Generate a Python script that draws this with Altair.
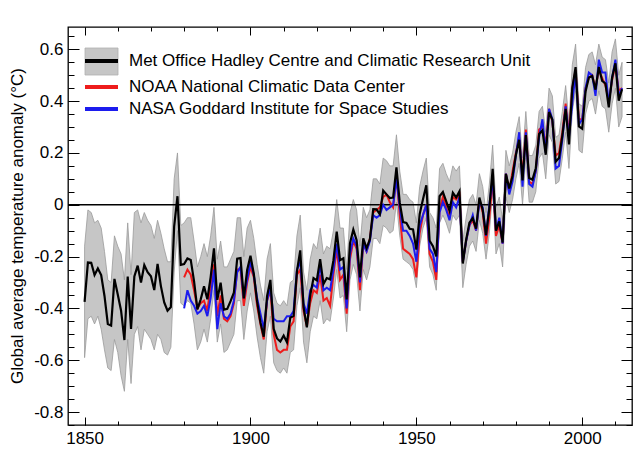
import altair as alt
import pandas as pd

# ---------------- data ----------------
had_years = list(range(1850, 2013))
hadcrut = [
    -0.375, -0.223, -0.224, -0.271, -0.246, -0.271, -0.352, -0.460, -0.466, -0.286,
    -0.346, -0.409, -0.522, -0.277, -0.479, -0.277, -0.235, -0.300, -0.233, -0.260,
    -0.276, -0.329, -0.228, -0.314, -0.377, -0.409, -0.395, -0.083, 0.033, -0.232,
    -0.229, -0.207, -0.213, -0.296, -0.404, -0.365, -0.315, -0.365, -0.279, -0.168,
    -0.367, -0.301, -0.405, -0.402, -0.372, -0.339, -0.208, -0.206, -0.361, -0.252,
    -0.197, -0.266, -0.373, -0.454, -0.509, -0.353, -0.290, -0.479, -0.516, -0.528,
    -0.505, -0.531, -0.436, -0.429, -0.258, -0.176, -0.394, -0.473, -0.350, -0.283,
    -0.292, -0.210, -0.306, -0.283, -0.288, -0.215, -0.104, -0.214, -0.207, -0.365,
    -0.148, -0.096, -0.137, -0.280, -0.130, -0.168, -0.133, -0.017, -0.018, -0.037,
    0.055, 0.040, 0.026, 0.028, 0.144, 0.008, -0.067, -0.070, -0.093, -0.095,
    -0.173, -0.036, 0.021, 0.075, -0.139, -0.160, -0.199, 0.033, 0.049, 0.013,
    -0.023, 0.046, 0.028, 0.052, -0.227, -0.136, -0.069, -0.052, -0.092, 0.028,
    -0.020, -0.117, -0.013, 0.139, -0.100, -0.064, -0.146, 0.119, 0.063, 0.111,
    0.192, 0.251, 0.094, 0.269, 0.103, 0.097, 0.141, 0.273, 0.287, 0.193,
    0.358, 0.328, 0.166, 0.180, 0.266, 0.370, 0.233, 0.451, 0.531, 0.302,
    0.293, 0.437, 0.491, 0.497, 0.444, 0.532, 0.478, 0.468, 0.376, 0.491,
    0.546, 0.402, 0.446,
]
had_upper = [
    -0.16, -0.02, -0.03, -0.07, -0.06, -0.09, -0.18, -0.29, -0.30, -0.12,
    -0.16, -0.19, -0.29, -0.07, -0.27, -0.03, -0.02, -0.07, -0.03, -0.06,
    -0.08, -0.13, -0.06, -0.11, -0.17, -0.22, -0.22, 0.10, 0.20, -0.08,
    -0.07, -0.05, -0.05, -0.14, -0.24, -0.20, -0.15, -0.20, -0.12, -0.01,
    -0.21, -0.14, -0.24, -0.24, -0.21, -0.18, -0.05, -0.05, -0.20, -0.09,
    -0.06, -0.13, -0.23, -0.31, -0.37, -0.21, -0.15, -0.34, -0.38, -0.39,
    -0.37, -0.39, -0.30, -0.29, -0.12, -0.04, -0.26, -0.33, -0.21, -0.15,
    -0.17, -0.09, -0.19, -0.16, -0.17, -0.10, 0.02, -0.09, -0.09, -0.25,
    -0.03, 0.02, -0.02, -0.16, -0.01, -0.05, -0.02, 0.10, 0.10, 0.08,
    0.18, 0.17, 0.15, 0.15, 0.27, 0.13, 0.04, 0.04, 0.02, 0.01,
    -0.07, 0.07, 0.13, 0.18, -0.03, -0.05, -0.09, 0.14, 0.16, 0.12,
    0.09, 0.15, 0.13, 0.15, -0.14, -0.05, 0.02, 0.04, 0.00, 0.12,
    0.07, -0.03, 0.08, 0.23, -0.01, 0.03, -0.06, 0.21, 0.15, 0.20,
    0.28, 0.34, 0.18, 0.36, 0.19, 0.19, 0.23, 0.36, 0.38, 0.28,
    0.45, 0.42, 0.26, 0.27, 0.36, 0.46, 0.32, 0.54, 0.62, 0.39,
    0.38, 0.53, 0.58, 0.59, 0.54, 0.62, 0.57, 0.56, 0.47, 0.59,
    0.64, 0.50, 0.55,
]
had_lower = [
    -0.59, -0.44, -0.43, -0.46, -0.43, -0.48, -0.56, -0.63, -0.64, -0.52,
    -0.57, -0.66, -0.72, -0.52, -0.69, -0.50, -0.47, -0.56, -0.48, -0.50,
    -0.52, -0.56, -0.50, -0.52, -0.57, -0.58, -0.55, -0.26, -0.10, -0.38,
    -0.39, -0.37, -0.38, -0.46, -0.56, -0.53, -0.48, -0.53, -0.44, -0.33,
    -0.53, -0.46, -0.57, -0.56, -0.53, -0.50, -0.37, -0.37, -0.52, -0.41,
    -0.34, -0.41, -0.51, -0.59, -0.65, -0.49, -0.43, -0.61, -0.64, -0.65,
    -0.63, -0.65, -0.57, -0.56, -0.39, -0.32, -0.53, -0.61, -0.49, -0.43,
    -0.44, -0.37, -0.46, -0.44, -0.45, -0.36, -0.25, -0.36, -0.35, -0.49,
    -0.29, -0.23, -0.27, -0.41, -0.25, -0.29, -0.24, -0.13, -0.13, -0.15,
    -0.08, -0.09, -0.11, -0.10, 0.01, -0.12, -0.21, -0.22, -0.23, -0.25,
    -0.32, -0.16, -0.09, -0.05, -0.24, -0.27, -0.33, -0.07, -0.04, -0.07,
    -0.11, -0.04, -0.06, -0.04, -0.32, -0.23, -0.16, -0.14, -0.18, -0.06,
    -0.11, -0.21, -0.11, 0.05, -0.19, -0.15, -0.24, 0.03, -0.03, 0.02,
    0.10, 0.16, 0.00, 0.18, 0.01, 0.01, 0.05, 0.18, 0.20, 0.10,
    0.27, 0.24, 0.08, 0.09, 0.18, 0.28, 0.14, 0.36, 0.44, 0.21,
    0.20, 0.35, 0.40, 0.41, 0.35, 0.44, 0.38, 0.37, 0.28, 0.39,
    0.45, 0.30, 0.34,
]

us_years = list(range(1880, 2013))
noaa = [
    -0.28, -0.25, -0.27, -0.33, -0.40, -0.38, -0.37, -0.41, -0.31, -0.23,
    -0.43, -0.35, -0.44, -0.45, -0.43, -0.38, -0.25, -0.25, -0.39, -0.30,
    -0.24, -0.28, -0.39, -0.46, -0.52, -0.37, -0.33, -0.50, -0.56, -0.57,
    -0.56, -0.56, -0.47, -0.45, -0.27, -0.25, -0.41, -0.47, -0.38, -0.33,
    -0.34, -0.27, -0.37, -0.36, -0.39, -0.27, -0.17, -0.29, -0.27, -0.42,
    -0.21, -0.14, -0.17, -0.33, -0.15, -0.18, -0.13, -0.03, -0.02, -0.01,
    0.03, 0.04, 0.01, -0.01, 0.11, -0.04, -0.17, -0.18, -0.19, -0.21,
    -0.28, -0.11, -0.04, 0.00, -0.19, -0.22, -0.29, -0.02, 0.03, -0.01,
    -0.05, 0.03, 0.02, 0.04, -0.22, -0.14, -0.08, -0.06, -0.10, 0.02,
    -0.03, -0.15, -0.05, 0.10, -0.12, -0.08, -0.15, 0.12, 0.05, 0.13,
    0.20, 0.26, 0.11, 0.29, 0.09, 0.08, 0.13, 0.29, 0.30, 0.23,
    0.37, 0.32, 0.19, 0.20, 0.28, 0.39, 0.27, 0.45, 0.52, 0.33,
    0.33, 0.45, 0.49, 0.50, 0.45, 0.52, 0.49, 0.46, 0.40, 0.48,
    0.54, 0.44, 0.45,
]
nasa = [
    -0.40, -0.33, -0.37, -0.39, -0.42, -0.41, -0.39, -0.43, -0.36, -0.25,
    -0.48, -0.38, -0.43, -0.44, -0.42, -0.37, -0.26, -0.24, -0.36, -0.29,
    -0.22, -0.27, -0.36, -0.42, -0.48, -0.37, -0.32, -0.44, -0.45, -0.45,
    -0.45, -0.43, -0.43, -0.41, -0.25, -0.22, -0.38, -0.42, -0.33, -0.31,
    -0.32, -0.23, -0.33, -0.32, -0.33, -0.25, -0.15, -0.25, -0.24, -0.40,
    -0.19, -0.13, -0.16, -0.30, -0.15, -0.18, -0.14, -0.04, -0.05, -0.04,
    0.00, -0.02, -0.01, 0.00, 0.10, -0.01, -0.10, -0.10, -0.12, -0.15,
    -0.22, -0.08, -0.04, 0.00, -0.17, -0.19, -0.26, -0.03, 0.01, -0.02,
    -0.06, 0.01, -0.01, 0.03, -0.22, -0.14, -0.08, -0.04, -0.10, 0.01,
    -0.01, -0.12, 0.00, 0.10, -0.10, -0.05, -0.15, 0.12, 0.04, 0.09,
    0.19, 0.28, 0.07, 0.28, 0.08, 0.07, 0.13, 0.26, 0.33, 0.20,
    0.37, 0.33, 0.14, 0.15, 0.25, 0.38, 0.26, 0.39, 0.51, 0.31,
    0.33, 0.45, 0.51, 0.50, 0.42, 0.56, 0.51, 0.51, 0.39, 0.49,
    0.56, 0.42, 0.45,
]

legend_names = [
    "Met Office Hadley Centre and Climatic Research Unit",
    "NOAA National Climatic Data Center",
    "NASA Goddard Institute for Space Studies",
]
y_title = "Global average temperature anomaly (\u00b0C)"

x_major = [1850, 1900, 1950, 2000]
x_minor = list(range(1850, 2015, 10))
y_major = [-0.8, -0.6, -0.4, -0.2, 0, 0.2, 0.4, 0.6]
y_minor = [round(-0.85 + 0.05 * i, 2) for i in range(31)]

X_DOM = [1845, 2015]
Y_DOM = [-0.85, 0.686]

# ---------------- styling ----------------
FONT = "Liberation Sans"
FS = 17
W, H = 564, 398
RED = "#ee1c1c"
BLUE = "#1c1cee"

had_df = pd.DataFrame({"year": had_years, "val": hadcrut, "up": had_upper, "lo": had_lower})
noaa_df = pd.DataFrame({"year": us_years, "val": noaa})
nasa_df = pd.DataFrame({"year": us_years, "val": nasa})
one = pd.DataFrame({"v": [0]})

xs = alt.Scale(domain=X_DOM, nice=False, zero=False)
ys = alt.Scale(domain=Y_DOM, nice=False, zero=False)


def ax(orient, values, size, labels, fmt):
    kw = dict(orient=orient, values=values, tickSize=size, offset=-size, domain=False,
              grid=False, labels=labels, title=None, tickColor="black", tickWidth=1)
    if labels:
        kw.update(labelFont=FONT, labelFontSize=FS, labelColor="black", labelPadding=5,
                  format=fmt, labelFlush=False, labelOverlap=False,
                  labelExpr="replace(datum.label, '\u2212', '-')")
    return alt.Axis(**kw)


def X(field, axis):
    return alt.X(field, type="quantitative", scale=xs, axis=axis)


def Y(field, axis):
    return alt.Y(field, type="quantitative", scale=ys, axis=axis)


band = alt.Chart(had_df).mark_area(fill="#c6c6c6", stroke="#9a9a9a", strokeWidth=0.8).encode(
    x=X("year", ax("bottom", x_major, 8, True, "d")),
    y=Y("lo", ax("left", y_major, 11, True, ".1~f")),
    y2="up",
)

zero = alt.Chart(one).mark_rule(color="black", strokeWidth=1.3).encode(
    y=Y("v", None),
)

red_line = alt.Chart(noaa_df).mark_line(color=RED, strokeWidth=2).encode(
    x=X("year", ax("bottom", x_minor, 4, False, "d")),
    y=Y("val", ax("left", y_minor, 6, False, ".1f")),
)
blue_line = alt.Chart(nasa_df).mark_line(color=BLUE, strokeWidth=2).encode(
    x=X("year", ax("top", x_major, 8, False, "d")),
    y=Y("val", ax("right", y_major, 11, False, ".1f")),
)
black_line = alt.Chart(had_df).mark_line(color="black", strokeWidth=2.2).encode(
    x=X("year", ax("top", x_minor, 4, False, "d")),
    y=Y("val", ax("right", y_minor, 6, False, ".1f")),
)

# legend (inside plot, top-left)
leg_box = alt.Chart(one).mark_rect(fill="#c6c6c6", stroke="#b0b0b0", strokeWidth=0.8).encode(
    x=alt.value(17), x2=alt.value(50), y=alt.value(21), y2=alt.value(48))
leg_rows = [("black", 34), (RED, 60), (BLUE, 82)]
leg_layers = [leg_box]
for name, (col, yy) in zip(legend_names, leg_rows):
    leg_layers.append(alt.Chart(one).mark_rule(color=col, strokeWidth=4).encode(
        x=alt.value(17), x2=alt.value(50), y=alt.value(yy)))
    leg_layers.append(alt.Chart(one).mark_text(text=name, font=FONT, fontSize=FS, color="black",
                                               align="left", baseline="middle").encode(
        x=alt.value(61), y=alt.value(yy)))

ytitle = alt.Chart(one).mark_text(text=y_title, font=FONT, fontSize=FS, color="black",
                                  angle=270, align="center", baseline="middle").encode(
    x=alt.value(-50), y=alt.value(H / 2))

chart = alt.layer(
    band, zero, red_line, blue_line, black_line, *leg_layers, ytitle
).resolve_axis(x="independent", y="independent").properties(
    width=W, height=H,
    padding={"left": 68, "top": 27, "right": 8, "bottom": 27},
    autosize=alt.AutoSizeParams(type="none"),
    background="white",
).configure_view(stroke="black", strokeWidth=1.3)

chart.save("out.html", embed_options={"renderer": "svg", "actions": False})
